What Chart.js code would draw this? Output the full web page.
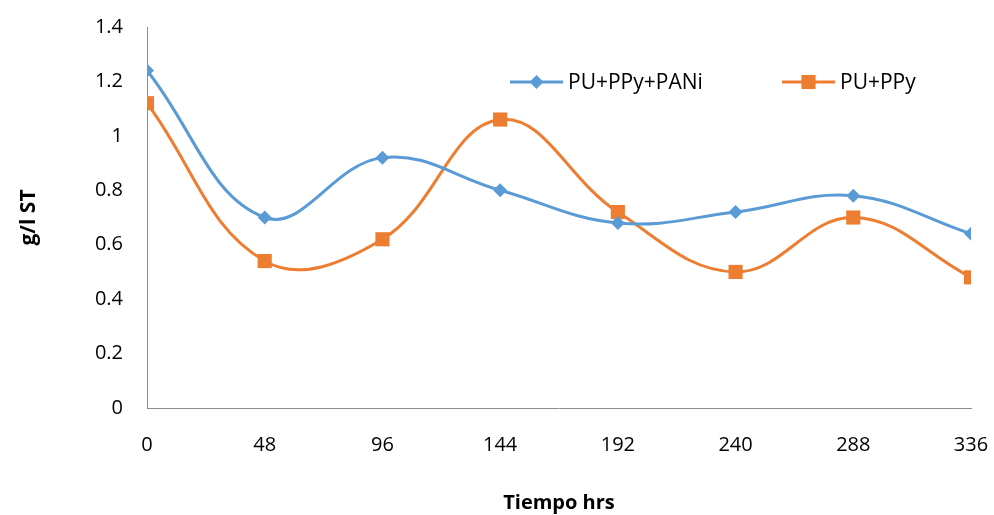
<!DOCTYPE html>
<html>
<head>
<meta charset="utf-8">
<script src="https://cdn.jsdelivr.net/npm/chart.js@4/dist/chart.umd.min.js"></script>
<style>
html,body{margin:0;padding:0;background:#fff;}
#wrap{width:994px;height:515px;position:relative;}
</style>
</head>
<body>
<div id="wrap"><canvas id="c" width="994" height="515"></canvas></div>
<script>
const hours = [0, 48, 96, 144, 192, 240, 288, 336];
const seriesNames = ["PU+PPy+PANi", "PU+PPy"];
const puPpyPani = [1.24, 0.70, 0.92, 0.80, 0.68, 0.72, 0.78, 0.64];
const puPpy = [1.12, 0.54, 0.62, 1.06, 0.72, 0.50, 0.70, 0.48];
const yTicks = [0, 0.2, 0.4, 0.6, 0.8, 1, 1.2, 1.4];
const xTitle = "Tiempo hrs";
const yTitle = "g/l ST";

const FONT = "'Open Sans', 'Liberation Sans', sans-serif";
const BLUE = "#5B9BD5", ORANGE = "#ED7D31", AXIS = "#8C8C8C";

const toPts = arr => hours.map((h, i) => ({x: h, y: arr[i]}));

const legendPlugin = {
  id: 'inlineLegend',
  afterDraw(chart) {
    const ctx = chart.ctx;
    const items = [
      {x: 510, ds: chart.data.datasets[0]},
      {x: 782, ds: chart.data.datasets[1]}
    ];
    const y = 82;
    ctx.save();
    items.forEach(it => {
      const ds = it.ds;
      ctx.strokeStyle = ds.borderColor;
      ctx.lineWidth = 3;
      ctx.beginPath();
      ctx.moveTo(it.x, y);
      ctx.lineTo(it.x + 53, y);
      ctx.stroke();
      ctx.fillStyle = ds.backgroundColor;
      ctx.beginPath();
      const cx = it.x + 26.5;
      if (ds.pointStyle === 'rect') {
        const s = ds.pointRadius * Math.SQRT1_2;
        ctx.rect(cx - s, y - s, 2*s, 2*s);
      } else {
        const r = ds.pointRadius;
        ctx.moveTo(cx, y - r); ctx.lineTo(cx + r, y);
        ctx.lineTo(cx, y + r); ctx.lineTo(cx - r, y);
        ctx.closePath();
      }
      ctx.fill();
      ctx.fillStyle = "#000";
      ctx.font = "21px " + FONT;
      ctx.textBaseline = "middle";
      ctx.textAlign = "left";
      ctx.fillText(ds.label, it.x + 58, y + 1);
    });
    ctx.restore();
  }
};

new Chart(document.getElementById('c'), {
  type: 'line',
  data: {
    datasets: [
      {label: seriesNames[0], data: toPts(puPpyPani), borderColor: BLUE, backgroundColor: BLUE,
       borderWidth: 3, pointStyle: 'rectRot', pointRadius: 7, pointBorderWidth: 0, tension: 0.4, fill: false},
      {label: seriesNames[1], data: toPts(puPpy), borderColor: ORANGE, backgroundColor: ORANGE,
       borderWidth: 3, pointStyle: 'rect', pointRadius: 10, pointBorderWidth: 0, tension: 0.4, fill: false}
    ]
  },
  options: {
    responsive: false,
    animation: false,
    layout: {padding: {top: 27, right: 23, left: 0, bottom: 0}},
    plugins: {legend: {display: false}, tooltip: {enabled: false}},
    scales: {
      x: {
        type: 'linear', min: 0, max: 336,
        afterBuildTicks: s => { s.ticks = hours.map(v => ({value: v})); },
        grid: {display: false, drawTicks: false},
        border: {display: true, color: AXIS, width: 1},
        ticks: {color: '#000', font: {family: FONT, size: 20}, padding: 25, maxRotation: 0, autoSkip: false},
        title: {display: true, text: xTitle, color: '#000', font: {family: FONT, size: 20, weight: 'bold'}, padding: {top: 24, bottom: 0}},
        afterFit: s => { s.height = 107; s.paddingLeft = 0; s.paddingRight = 0; }
      },
      y: {
        min: 0, max: 1.4,
        afterBuildTicks: s => { s.ticks = yTicks.map(v => ({value: v})); },
        grid: {display: false, drawTicks: false},
        border: {display: true, color: AXIS, width: 1},
        ticks: {color: '#000', font: {family: FONT, size: 20}, padding: 24, callback: v => String(Math.round(v*10)/10)},
        title: {display: true, text: yTitle, color: '#000', font: {family: FONT, size: 21, weight: 'bold'}, padding: {top: 16, bottom: 0}},
        afterFit: s => { s.width = 147; s.paddingTop = 0; s.paddingBottom = 0; }
      }
    }
  },
  plugins: [legendPlugin]
});
</script>
</body>
</html>
